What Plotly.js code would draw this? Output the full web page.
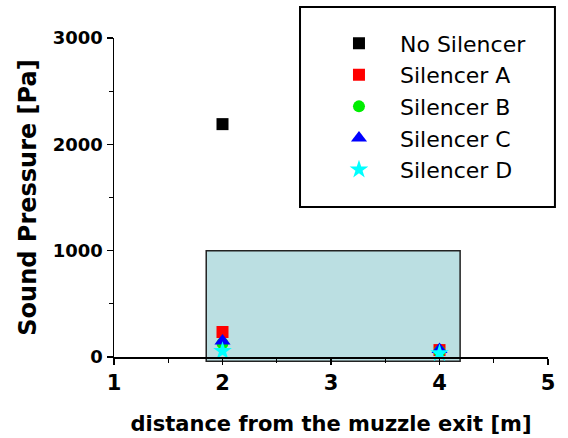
<!DOCTYPE html>
<html>
<head>
<meta charset="utf-8">
<script src="https://cdn.plot.ly/plotly-3.0.1.min.js"></script>
<style>html,body{margin:0;padding:0;background:#fff;}#chart{width:568px;height:438px;}</style>
</head>
<body>
<div id="chart"></div>
<script>
// Data
var seriesNames = ["No Silencer", "Silencer A", "Silencer B", "Silencer C", "Silencer D"];
var noSilencerX = [2];
var noSilencerY = [2190];
var silencerAX = [2, 4];
var silencerAY = [235, 65];
var silencerBX = [2, 4];
var silencerBY = [130, 55];
var silencerCX = [2, 4];
var silencerCY = [150, 70];
var silencerDX = [2, 4];
var silencerDY = [56, 35];

// Highlight box (data coordinates)
var boxX = [1.85, 4.19];
var boxY = [-40, 1000];

var xRange = [1, 5];
var yRange = [0, 3000];
var xTicks = [1, 2, 3, 4, 5];
var yTicks = [0, 1000, 2000, 3000];

var colors = ["#000000", "#ff0000", "#00ee00", "#0000ff", "#00ffff"];
var symbols = ["square", "square", "circle", "triangle-up", "star"];
var sizes = [12, 12, 12, 14, 14];

var xs = [noSilencerX, silencerAX, silencerBX, silencerCX, silencerDX];
var ys = [noSilencerY, silencerAY, silencerBY, silencerCY, silencerDY];

var traces = seriesNames.map(function (name, i) {
  return {
    type: "scatter",
    mode: "markers",
    name: name,
    x: xs[i],
    y: ys[i],
    cliponaxis: false,
    marker: { color: colors[i], symbol: symbols[i], size: sizes[i], line: { width: 0 } }
  };
});

var tickFontY = { family: "DejaVu Sans", size: 18, color: "#000", weight: "bold" };
var tickFontX = { family: "DejaVu Sans", size: 21, color: "#000", weight: "bold" };

var layout = {
  width: 568,
  height: 438,
  margin: { l: 114, r: 20, t: 38, b: 81 },
  paper_bgcolor: "#ffffff",
  plot_bgcolor: "rgba(0,0,0,0)",
  showlegend: true,
  xaxis: {
    range: xRange,
    tickvals: xTicks,
    ticktext: xTicks.map(String),
    showgrid: false,
    zeroline: false,
    showline: true,
    linecolor: "#000",
    linewidth: 1.5,
    ticks: "outside",
    ticklen: 6,
    tickwidth: 1.5,
    tickcolor: "#000",
    minor: { dtick: 0.5, tick0: 1, ticks: "outside", ticklen: 4, tickwidth: 1, tickcolor: "#000", showgrid: false },
    tickfont: tickFontX,
    title: {
      text: "distance from the muzzle exit [m]",
      font: { family: "DejaVu Sans", size: 21, color: "#000", weight: "bold" },
      standoff: 22
    }
  },
  yaxis: {
    range: yRange,
    tickvals: yTicks,
    ticktext: yTicks.map(String),
    showgrid: false,
    zeroline: false,
    showline: true,
    linecolor: "#000",
    linewidth: 1.5,
    ticks: "outside",
    ticklen: 6,
    tickwidth: 1.5,
    tickcolor: "#000",
    minor: { dtick: 500, tick0: 0, ticks: "outside", ticklen: 4, tickwidth: 1, tickcolor: "#000", showgrid: false },
    tickfont: tickFontY,
    title: {
      text: "Sound Pressure [Pa]",
      font: { family: "DejaVu Sans", size: 24, color: "#000", weight: "bold" },
      standoff: 9
    }
  },
  shapes: [
    {
      type: "rect",
      layer: "below",
      xref: "x",
      yref: "y domain",
      x0: boxX[0],
      x1: boxX[1],
      y0: (boxY[0] - yRange[0]) / (yRange[1] - yRange[0]),
      y1: (boxY[1] - yRange[0]) / (yRange[1] - yRange[0]),
      fillcolor: "#bbdfe2",
      line: { color: "#222", width: 1.5 }
    },
    {
      type: "rect",
      layer: "above",
      xref: "paper",
      yref: "paper",
      x0: 0.4286,
      x1: 1.016,
      y0: 0.470,
      y1: 1.097,
      fillcolor: "#ffffff",
      line: { color: "#000", width: 2 }
    }
  ],
  legend: {
    x: 0.47,
    y: 1.049,
    xanchor: "left",
    yanchor: "top",
    bgcolor: "rgba(0,0,0,0)",
    borderwidth: 0,
    itemwidth: 72,
    font: { family: "DejaVu Sans", size: 22, color: "#000" },
    tracegroupgap: 0
  }
};

Plotly.newPlot("chart", traces, layout, { staticPlot: true, displayModeBar: false });
</script>
</body>
</html>
